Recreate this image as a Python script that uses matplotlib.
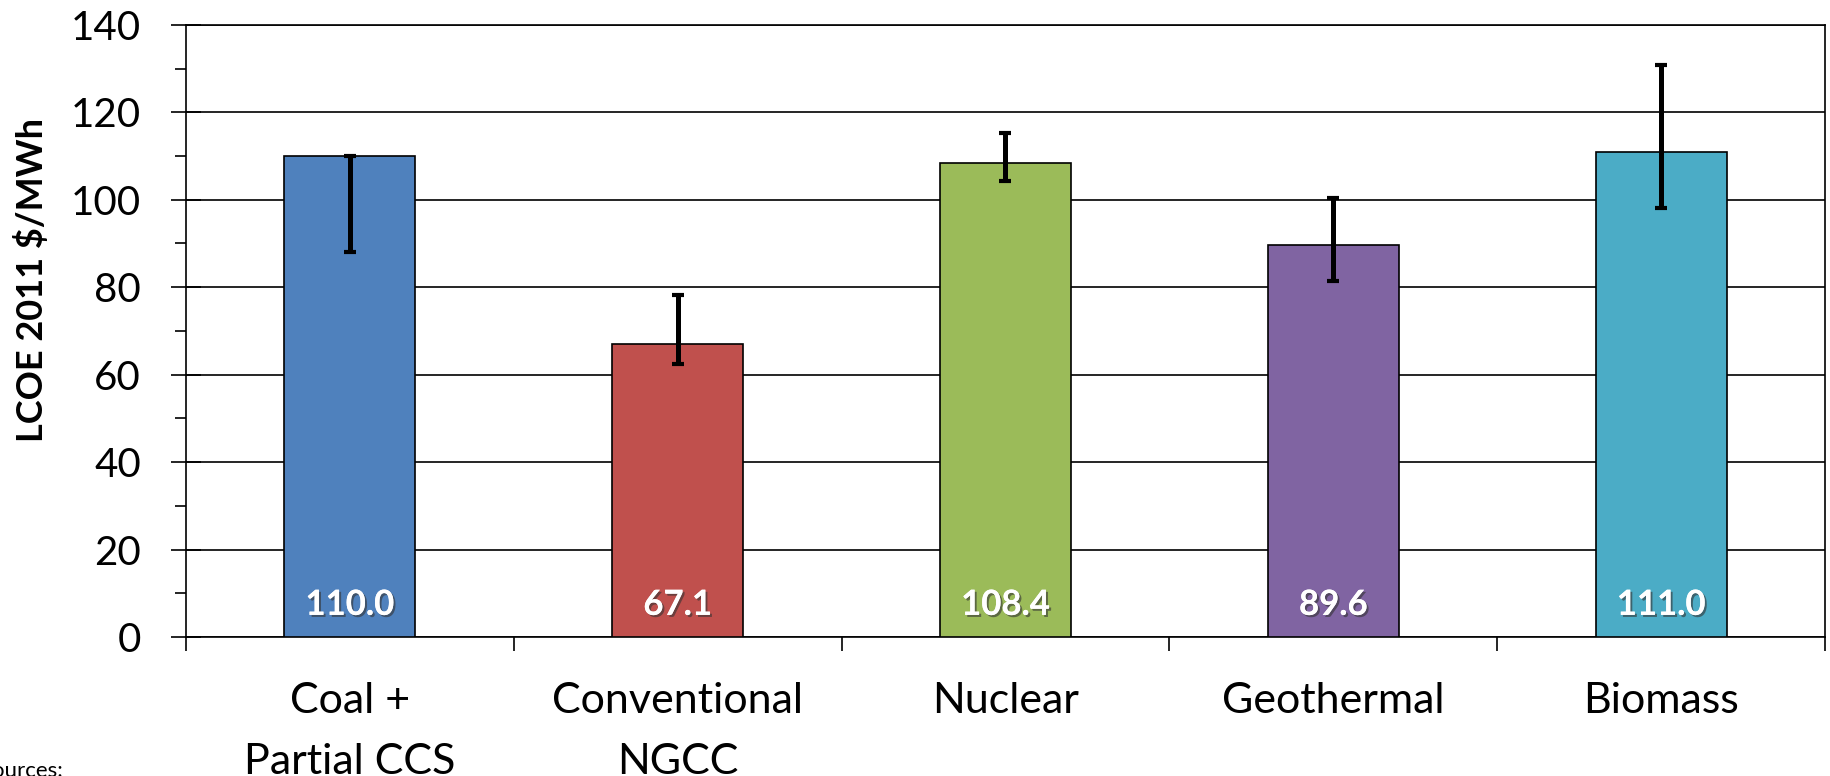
import matplotlib
matplotlib.use('Agg')
import matplotlib.pyplot as plt
import matplotlib.patheffects as pe
import numpy as np

categories = ['Coal +\nPartial CCS', 'Conventional\nNGCC', 'Nuclear', 'Geothermal', 'Biomass']
lcoe = [110.0, 67.1, 108.4, 89.6, 111.0]
err_low = [88.0, 62.5, 104.3, 81.4, 98.1]
err_high = [110.0, 78.2, 115.3, 100.3, 130.9]
colors = ['#4F81BD', '#C0504D', '#9BBB59', '#8064A2', '#4BACC6']

plt.rcParams['font.family'] = ['Lato', 'DejaVu Sans']

fig = plt.figure(figsize=(18.3, 7.76), dpi=100)
ax = fig.add_axes([0.1016, 0.179, 0.8957, 0.789])

x = np.arange(len(categories))
vals = np.array(lcoe)
yerr = np.array([vals - np.array(err_low), np.array(err_high) - vals])

ax.bar(x, vals, width=0.4, color=colors, edgecolor='black', linewidth=1.2, zorder=3)
ax.errorbar(x, vals, yerr=yerr, fmt='none', ecolor='black', elinewidth=3.6,
            capsize=4.5, capthick=3, zorder=4)

# value labels sit near the bar base, white with a soft shadow
for xi, v in zip(x, lcoe):
    ax.annotate(f'{v:.1f}', (xi, 0), xytext=(0, 16), textcoords='offset points',
                ha='center', va='baseline', color='white', fontsize=25, fontweight='bold',
                zorder=5,
                path_effects=[pe.withSimplePatchShadow(offset=(1.5, -1.5), shadow_rgbFace='#333333', alpha=0.6),
                              pe.Normal()])

ax.set_xlim(-0.5, len(categories) - 0.5)
ax.set_ylim(0, 140)
ax.set_yticks(np.arange(0, 141, 20))
ax.set_yticks(np.arange(0, 141, 10), minor=True)
ax.yaxis.grid(True, color='black', linewidth=1.2, zorder=0)
ax.set_axisbelow(True)

ax.set_xticks(x)
ax.set_xticklabels(categories, fontsize=31, linespacing=1.75)
ax.set_xticks(np.arange(-0.5, len(categories), 1), minor=True)
ax.tick_params(axis='x', which='major', length=0, pad=32)
ax.tick_params(axis='x', which='minor', length=10, width=1.2, color='black')
ax.tick_params(axis='y', which='major', direction='inout', length=21, width=1.2, labelsize=29, pad=22)
ax.tick_params(axis='y', which='minor', direction='out', length=8, width=1.2)

for s in ax.spines.values():
    s.set_color('black')
    s.set_linewidth(1.2)

ax.set_ylabel('LCOE 2011 $/MWh', fontsize=26, fontweight='bold', va='center')
ax.yaxis.set_label_coords(32 / 1830, 1 - 280 / 776, transform=fig.transFigure)

fig.text(-0.011, -0.006, 'Sources:', fontsize=16, ha='left', va='bottom')

fig.savefig('out.png', dpi=100)
